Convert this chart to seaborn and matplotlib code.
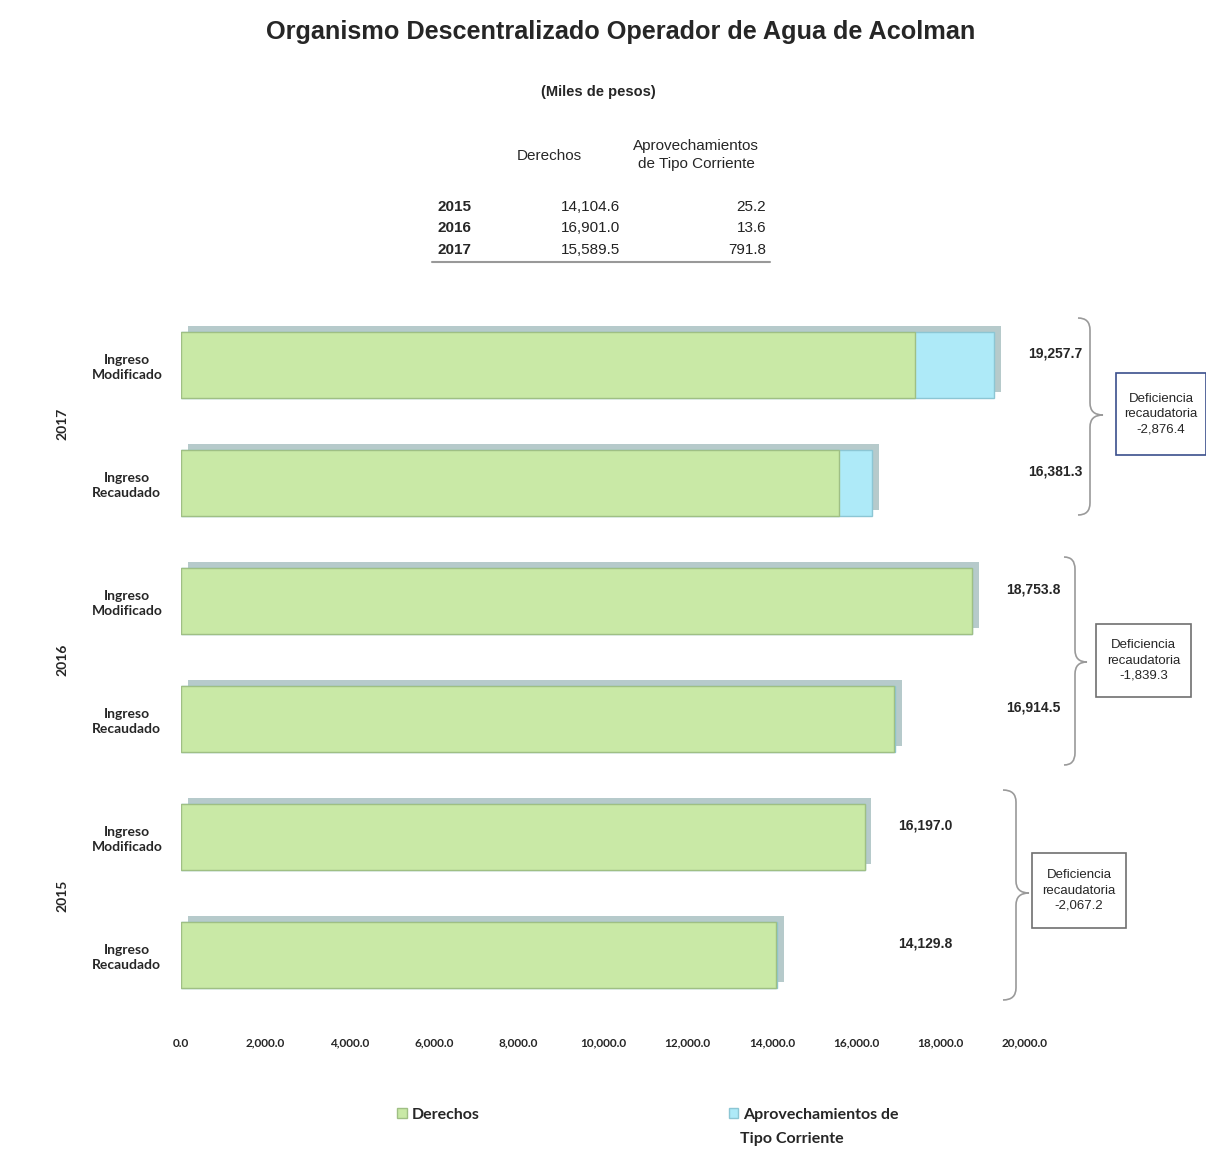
import numpy as np
import pandas as pd
import matplotlib
matplotlib.use("Agg")
import matplotlib.pyplot as plt
import matplotlib.patheffects as pe
from matplotlib.path import Path
from matplotlib.patches import PathPatch, Rectangle, Patch
from matplotlib.transforms import blended_transform_factory
import seaborn as sns

# ---------------- data ----------------
years = ["2017", "2017", "2016", "2016", "2015", "2015"]
conceptos = ["Ingreso\nModificado", "Ingreso\nRecaudado",
             "Ingreso\nModificado", "Ingreso\nRecaudado",
             "Ingreso\nModificado", "Ingreso\nRecaudado"]
derechos = [17388.0, 15589.5, 18753.8, 16901.0, 16197.0, 14104.6]
aprovechamientos = [1869.7, 791.8, 0.0, 13.6, 0.0, 25.2]
totales = [19257.7, 16381.3, 18753.8, 16914.5, 16197.0, 14129.8]

table_years = ["2015", "2016", "2017"]
table_derechos = [14104.6, 16901.0, 15589.5]
table_aprov = [25.2, 13.6, 791.8]

x_ticks = [0, 2000, 4000, 6000, 8000, 10000, 12000, 14000, 16000, 18000, 20000]
legend_labels = ["Derechos", "Aprovechamientos de", "Tipo Corriente"]

# ---------------- style ----------------
sns.set_theme(style="white")
plt.rcParams["font.family"] = ["Liberation Sans", "DejaVu Sans"]

GREEN = "#c9e9a6"
GREEN_EDGE = "#9fbf84"
CYAN = "#aeeaf8"
CYAN_EDGE = "#8cc6d4"
NARROW = ["Liberation Sans Narrow", "Liberation Sans", "DejaVu Sans"]
CAL = ["Lato", "DejaVu Sans"]

W, H = 1206, 1150
fig = plt.figure(figsize=(W / 100, H / 100), dpi=100)
fig.patch.set_facecolor("white")

left, right = 181, 1025
top, bottom = 306, 1014
ax = fig.add_axes([left / W, 1 - bottom / H, (right - left) / W, (bottom - top) / H])

keys = [f"{y} {c}" for y, c in zip(years, conceptos)]
df = pd.DataFrame({"key": keys, "total": totales, "derechos": derechos,
                   "aprov": aprovechamientos})

shadow = [pe.SimplePatchShadow(offset=(5, 4), shadow_rgbFace="#a9c1c2", alpha=0.85),
          pe.Normal()]

sns.barplot(data=df, x="total", y="key", order=keys, color=CYAN, orient="h",
            width=0.56, edgecolor=CYAN_EDGE, linewidth=1.0, saturation=1, ax=ax)
for p in ax.patches:
    p.set_path_effects(shadow)
sns.barplot(data=df, x="derechos", y="key", order=keys, color=GREEN, orient="h",
            width=0.56, edgecolor=GREEN_EDGE, linewidth=1.0, saturation=1, ax=ax)

ax.set_xlim(0, 20000)
ax.set_ylim(len(keys) - 0.5, -0.5)
ax.set_xticks(x_ticks)
ax.set_xticklabels([f"{v:,.1f}" for v in x_ticks], fontsize=8.5,
                   fontweight="bold", family=CAL)
ax.set_yticks(range(len(keys)))
ax.set_yticklabels(conceptos, fontsize=10, fontweight="bold", family=CAL,
                   linespacing=1.3)
for t in ax.get_yticklabels():
    t.set_ha("center")
ax.tick_params(axis="y", pad=39, length=0)
ax.tick_params(axis="x", pad=17, length=0)
ax.set_xlabel("")
ax.set_ylabel("")
for s in ax.spines.values():
    s.set_visible(False)
ax.grid(False)

# value labels (grouped by year, placed right of the group's longest bar)
for i, tot in enumerate(totales):
    g = i // 2
    gmax = max(totales[2 * g], totales[2 * g + 1])
    ax.text(gmax + 1450, i - 0.1, f"{tot:,.1f}", ha="center", va="center",
            fontsize=10, fontweight="bold", family=NARROW, clip_on=False)

# year labels
trans = blended_transform_factory(ax.transAxes, ax.transData)
for g in range(3):
    ax.text(-0.141, 2 * g + 0.5, years[2 * g], transform=trans, rotation=90,
            ha="center", va="center", fontsize=10, fontweight="bold", family=CAL)

# legend
handles = [Patch(facecolor=GREEN, edgecolor=GREEN_EDGE),
           Patch(facecolor=CYAN, edgecolor=CYAN_EDGE)]
leg = fig.legend(handles, legend_labels[:2],
                 loc="center left", bbox_to_anchor=(383 / W, 1 - 1115 / H), ncol=2,
                 frameon=False, handlelength=0.6, handleheight=0.6,
                 handletextpad=0.3, columnspacing=15.6,
                 prop={"family": CAL, "weight": "bold", "size": 11.5})

# ---------------- overlay (title, table, braces, boxes) ----------------
ov = fig.add_axes([0, 0, 1, 1], facecolor="none")
ov.set_xlim(0, W)
ov.set_ylim(H, 0)
ov.axis("off")

ov.text(792, 1139, legend_labels[2], ha="center", va="center", fontsize=11.5,
        fontweight="bold", family=CAL, color="#262626")

ov.text(621, 32, "Organismo Descentralizado Operador de Agua de Acolman",
        ha="center", va="center", fontsize=18.2, fontweight="bold")
ov.text(598, 92, "(Miles de pesos)", ha="center", va="center", fontsize=10.5,
        fontweight="bold", family=NARROW)
ov.text(549, 156, "Derechos", ha="center", va="center", fontsize=11,
        family=NARROW)
ov.text(696, 155, "Aprovechamientos\nde Tipo Corriente", ha="center",
        va="center", fontsize=11, family=NARROW, linespacing=1.35)
row_y = [207, 228, 250]
for yy, yr, d, a in zip(row_y, table_years, table_derechos, table_aprov):
    ov.text(438, yy, yr, ha="left", va="center", fontsize=11, fontweight="bold",
            family=NARROW)
    ov.text(620, yy, f"{d:,.1f}", ha="right", va="center", fontsize=11,
            family=NARROW, color="#222222")
    ov.text(766, yy, f"{a:,.1f}", ha="right", va="center", fontsize=11,
            family=NARROW, color="#222222")
ov.plot([432, 770], [262, 262], color="#999999", lw=1.5)


def brace(x0, x1, x2, y0, y1, ym, r=12):
    verts = [(x0, y0), (x1, y0), (x1, y0 + r),
             (x1, ym - r), (x1, ym), (x2, ym),
             (x1, ym), (x1, ym + r),
             (x1, y1 - r), (x1, y1), (x0, y1)]
    codes = [Path.MOVETO, Path.CURVE3, Path.CURVE3,
             Path.LINETO, Path.CURVE3, Path.CURVE3,
             Path.CURVE3, Path.CURVE3,
             Path.LINETO, Path.CURVE3, Path.CURVE3]
    ov.add_patch(PathPatch(Path(verts, codes), fill=False, edgecolor="#9a9a9a",
                           lw=1.2))


brace(1078, 1090, 1103, 318, 515, 415)
brace(1064, 1075, 1087, 557, 765, 662)
brace(1003, 1016, 1029, 790, 1000, 893)

deficits = [totales[2 * g + 1] - totales[2 * g] for g in range(3)]
boxes = [(1116, 373, 90, 82, "#3b4f8c"), (1096, 624, 95, 73, "#707070"),
         (1032, 853, 94, 75, "#707070")]
for (bx, by, bw, bh, ec), dval in zip(boxes, deficits):
    ov.add_patch(Rectangle((bx, by), bw, bh, facecolor="white", edgecolor=ec,
                           lw=1.2))
    ov.text(bx + bw / 2, by + bh / 2, f"Deficiencia\nrecaudatoria\n{dval:,.1f}",
            ha="center", va="center", fontsize=9.5, family=NARROW,
            linespacing=1.35)

fig.savefig("out.png", dpi=100, facecolor="white")
